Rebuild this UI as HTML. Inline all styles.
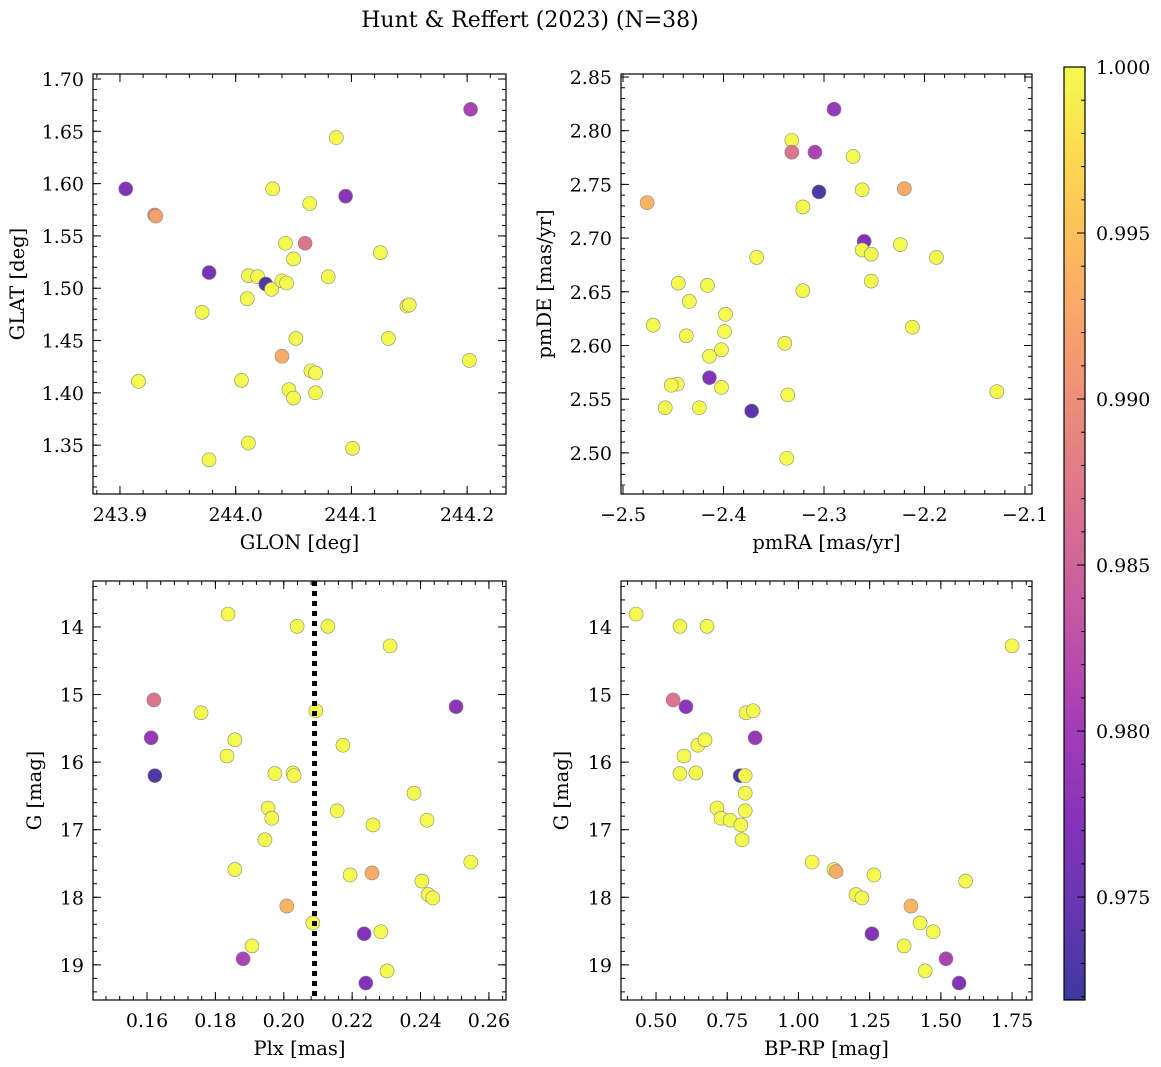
<!DOCTYPE html>
<html><head><meta charset="utf-8"><style>
html,body{margin:0;padding:0;background:#fff;}
svg{display:block;font-family:"DejaVu Serif","Liberation Serif",serif;}
</style></head><body>
<svg id="fig" width="1161" height="1067" viewBox="0 0 1161 1067" xmlns="http://www.w3.org/2000/svg">
<text x="530" y="27" font-size="22" text-anchor="middle">Hunt &amp; Reffert (2023) (N=38)</text>
</svg>
<script>
// Panel 1: GLON vs GLAT
const glon = [244.203,244.087,243.905,244.095,244.032,244.064,243.930,243.931,244.060,244.043,243.977,244.125,244.011,244.019,244.050,244.026,244.031,244.040,244.044,244.080,244.010,243.971,244.148,244.150,244.052,244.132,244.040,244.065,244.069,244.202,244.005,243.916,244.046,244.050,244.069,244.011,244.101,243.977];
const glat = [1.671,1.644,1.595,1.588,1.595,1.581,1.570,1.569,1.543,1.543,1.515,1.534,1.512,1.511,1.528,1.504,1.499,1.507,1.505,1.511,1.490,1.477,1.483,1.484,1.452,1.452,1.435,1.421,1.419,1.431,1.412,1.411,1.403,1.395,1.400,1.352,1.347,1.336];
const prob1 = [0.981,1,0.977,0.978,1,1,0.989,0.992,0.987,1,0.976,1,1,1,1,0.973,1,1,1,1,1,1,1,1,1,1,0.993,1,1,1,1,1,1,1,1,1,1,1];
// Panel 2: pmRA vs pmDE
const pmra = [-2.290,-2.332,-2.332,-2.309,-2.271,-2.305,-2.262,-2.220,-2.476,-2.321,-2.260,-2.224,-2.262,-2.253,-2.367,-2.188,-2.253,-2.445,-2.416,-2.321,-2.434,-2.398,-2.470,-2.212,-2.399,-2.437,-2.339,-2.402,-2.414,-2.414,-2.446,-2.452,-2.402,-2.336,-2.128,-2.458,-2.424,-2.372,-2.337];
const pmde = [2.820,2.791,2.780,2.780,2.776,2.743,2.745,2.746,2.733,2.729,2.697,2.694,2.689,2.685,2.682,2.682,2.660,2.658,2.656,2.651,2.641,2.629,2.619,2.617,2.613,2.609,2.602,2.596,2.590,2.570,2.564,2.563,2.561,2.554,2.557,2.542,2.542,2.539,2.495];
const prob2 = [0.979,1,0.987,0.981,1,0.973,1,0.993,0.994,1,0.977,1,1,1,1,1,1,1,1,1,1,1,1,1,1,1,1,1,1,0.977,1,1,1,1,1,1,1,0.974,1];
// Panel 3: Plx vs G
const plx = [0.1837,0.2039,0.2129,0.2311,0.1620,0.2504,0.1758,0.2094,0.1612,0.1857,0.2173,0.1834,0.1974,0.2027,0.2030,0.1623,0.2381,0.1954,0.2156,0.1965,0.2419,0.2261,0.1945,0.2547,0.1857,0.2194,0.2258,0.2404,0.2422,0.2436,0.2009,0.2235,0.2284,0.2085,0.1907,0.1881,0.2302,0.2240];
const gmag3 = [13.81,13.99,13.99,14.28,15.08,15.18,15.27,15.24,15.64,15.67,15.75,15.91,16.17,16.16,16.20,16.20,16.46,16.68,16.72,16.83,16.86,16.93,17.15,17.48,17.59,17.67,17.64,17.76,17.96,18.01,18.13,18.54,18.51,18.38,18.72,18.91,19.09,19.27];
const prob3 = [1,1,1,1,0.987,0.978,1,1,0.979,1,1,1,1,1,1,0.973,1,1,1,1,1,1,1,1,1,1,0.993,1,1,1,0.994,0.977,1,1,1,0.981,1,0.977];
// Panel 4: BP-RP vs G
const bprp = [0.430,0.584,0.679,1.750,0.560,0.605,0.816,0.841,0.598,0.647,0.848,0.672,0.584,0.640,0.795,0.813,0.813,0.813,0.714,0.728,0.760,0.798,0.802,1.048,1.125,1.132,1.265,1.202,1.223,1.395,1.587,1.427,1.258,1.473,1.371,1.445,1.518,1.564];
const gmag4 = [13.81,13.99,13.99,14.28,15.08,15.18,15.27,15.24,15.91,15.75,15.64,15.67,16.17,16.16,16.20,16.20,16.46,16.72,16.68,16.83,16.86,16.93,17.15,17.48,17.59,17.62,17.67,17.96,18.01,18.13,17.76,18.38,18.54,18.51,18.72,19.09,18.91,19.27];
const prob4 = [1,1,1,1,0.987,0.978,1,1,1,1,0.979,1,1,1,0.973,1,1,1,1,1,1,1,1,1,1,0.993,1,1,1,0.994,1,1,0.977,1,1,1,0.981,0.977];
const plxRef = [0.209];
const cbTicks = [0.975,0.980,0.985,0.990,0.995,1.000];

const NS="http://www.w3.org/2000/svg";
const svg=document.getElementById('fig');
function el(tag,attrs,parent){const e=document.createElementNS(NS,tag);for(const k in attrs)e.setAttribute(k,attrs[k]);(parent||svg).appendChild(e);return e;}
const VMIN=0.9719,VMAX=1.0;
const plasma=[[13,8,135],[65,4,157],[106,0,168],[143,13,164],[177,42,144],[204,71,120],[225,100,98],[242,132,75],[252,166,54],[252,206,37],[240,249,33]];
function cmap(t){t=Math.max(0,Math.min(1,t))*10;const i=Math.min(9,Math.floor(t)),f=t-i;const a=plasma[i],b=plasma[i+1];
 const c=[0,1,2].map(k=>Math.round((a[k]+(b[k]-a[k])*f)*0.8+255*0.2));return `rgb(${c[0]},${c[1]},${c[2]})`;}
function colorOf(p){return cmap((p-VMIN)/(VMAX-VMIN));}
const TF=19, LF=19.5;

function panel(o){
 const g=el('g',{});
 
 
 const sx=v=>o.x0+(v-o.xmin)/(o.xmax-o.xmin)*(o.x1-o.x0);
 const sy=o.yinv?(v=>o.y0+(v-o.ymin)/(o.ymax-o.ymin)*(o.y1-o.y0)):(v=>o.y1-(v-o.ymin)/(o.ymax-o.ymin)*(o.y1-o.y0));
 for(let i=0;i<o.xs.length;i++){
  const c=el('circle',{cx:sx(o.xs[i]),cy:sy(o.ys[i]),r:7,fill:colorOf(o.ps[i]),stroke:'#888',"stroke-width":0.6},g);
  
  
 }
 if(o.extra)o.extra(g,sx,sy);
 const eps=1e-9;
 function ticksX(step,len,labels){
  const s=Math.ceil(o.xmin/step-eps);
  for(let k=s;k*step<=o.xmax+eps;k++){const v=k*step,x=sx(v);
   el('line',{x1:x,x2:x,y1:o.y1,y2:o.y1-len,stroke:'#000','stroke-width':1},g);
   el('line',{x1:x,x2:x,y1:o.y0,y2:o.y0+len,stroke:'#000','stroke-width':1},g);
   if(labels){const t=el('text',{x:x,y:o.y1+27,'font-size':TF,'text-anchor':'middle'},g);t.textContent=o.fx(v);
    }
  }}
 function ticksY(step,len,labels){
  const lo=Math.min(o.ymin,o.ymax),hi=Math.max(o.ymin,o.ymax);
  const s=Math.ceil(lo/step-eps);
  for(let k=s;k*step<=hi+eps;k++){const v=k*step,y=sy(v);
   el('line',{x1:o.x0,x2:o.x0+len,y1:y,y2:y,stroke:'#000','stroke-width':1},g);
   el('line',{x1:o.x1,x2:o.x1-len,y1:y,y2:y,stroke:'#000','stroke-width':1},g);
   if(labels){const t=el('text',{x:o.x0-9,y:y+7,'font-size':TF,'text-anchor':'end'},g);t.textContent=o.fy(v);
    }
  }}
 ticksX(o.xminor,4,false);ticksX(o.xmajor,8,true);
 ticksY(o.yminor,4,false);ticksY(o.ymajor,8,true);
 el('rect',{x:o.x0,y:o.y0,width:o.x1-o.x0,height:o.y1-o.y0,fill:'none',stroke:'#000','stroke-width':1.2},g);
 const xl=el('text',{x:(o.x0+o.x1)/2,y:o.y1+55,'font-size':LF,'text-anchor':'middle'},g);xl.textContent=o.xlabel;
 
 const cy=(o.y0+o.y1)/2;
 const yl=el('text',{x:o.ylx,y:cy,'font-size':LF,'text-anchor':'middle',transform:`rotate(-90 ${o.ylx} ${cy})`},g);yl.textContent=o.ylabel;
 
}
const minus=s=>s.replace('-','\u2212');
panel({name:'glon-glat-panel',xs:glon,ys:glat,ps:prob1,x0:93,x1:506,y0:74,y1:494,xmin:243.8767,xmax:244.2336,ymin:1.3033,ymax:1.7048,
 xmajor:0.1,xminor:0.02,ymajor:0.05,yminor:0.01,fx:v=>v.toFixed(1),fy:v=>v.toFixed(2),xlabel:'GLON [deg]',ylabel:'GLAT [deg]',ylx:24});
panel({name:'pm-panel',xs:pmra,ys:pmde,ps:prob2,x0:621,x1:1032,y0:74,y1:494,xmin:-2.502,xmax:-2.093,ymin:2.4617,ymax:2.8528,
 xmajor:0.1,xminor:0.02,ymajor:0.05,yminor:0.01,fx:v=>minus(v.toFixed(1)),fy:v=>v.toFixed(2),xlabel:'pmRA [mas/yr]',ylabel:'pmDE [mas/yr]',ylx:551});
panel({name:'plx-g-panel',xs:plx,ys:gmag3,ps:prob3,x0:93,x1:506,y0:581,y1:1000,xmin:0.1442,xmax:0.2650,ymin:13.32,ymax:19.52,yinv:true,
 xmajor:0.02,xminor:0.004,ymajor:1,yminor:0.2,fx:v=>v.toFixed(2),fy:v=>v.toFixed(0),xlabel:'Plx [mas]',ylabel:'G [mag]',ylx:41,
 extra:(g,sx,sy)=>{plxRef.forEach(v=>{const l=el('line',{x1:sx(v),x2:sx(v),y1:581,y2:1000,stroke:'#000','stroke-width':5,'stroke-dasharray':'5,5'},g);
  });}});
panel({name:'cmd-panel',xs:bprp,ys:gmag4,ps:prob4,x0:621,x1:1032,y0:581,y1:1000,xmin:0.377,xmax:1.820,ymin:13.32,ymax:19.52,yinv:true,
 xmajor:0.25,xminor:0.05,ymajor:1,yminor:0.2,fx:v=>v.toFixed(2),fy:v=>v.toFixed(0),xlabel:'BP-RP [mag]',ylabel:'G [mag]',ylx:568});

const cb=el('g',{});


const defs=el('defs',{},cb);
const grad=el('linearGradient',{id:'cbg',x1:0,y1:1,x2:0,y2:0},defs);
for(let i=0;i<=20;i++){el('stop',{offset:i/20,'stop-color':cmap(i/20)},grad);}
const CX0=1064,CX1=1085,CY0=67,CY1=1000;
const cy=v=>CY1-(v-VMIN)/(VMAX-VMIN)*(CY1-CY0);
el('rect',{x:CX0,y:CY0,width:CX1-CX0,height:CY1-CY0,fill:'url(#cbg)'},cb);
for(let k=972;k<=1000;k++){const y=cy(k/1000);el('line',{x1:CX1,x2:CX1-4,y1:y,y2:y,stroke:'#000','stroke-width':1},cb);}
cbTicks.forEach(v=>{const y=cy(v);el('line',{x1:CX1,x2:CX1-8,y1:y,y2:y,stroke:'#000','stroke-width':1},cb);
 const t=el('text',{x:CX1+11,y:y+7,'font-size':TF},cb);t.textContent=v.toFixed(3);
 });
el('rect',{x:CX0,y:CY0,width:CX1-CX0,height:CY1-CY0,fill:'none',stroke:'#000','stroke-width':1.2},cb);
</script>
</body></html>
